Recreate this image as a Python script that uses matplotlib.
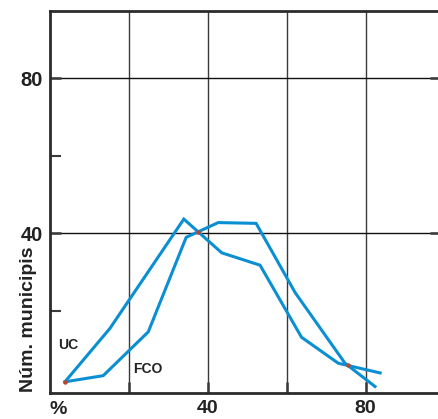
import numpy as np
import matplotlib
matplotlib.use('Agg')
import matplotlib.pyplot as plt

plt.rcParams['font.family'] = ['Liberation Sans', 'DejaVu Sans']
plt.rcParams['font.weight'] = 'bold'

# data (% on x, number of municipalities on y)
uc_x = [3.9, 15.3, 34.0, 43.6, 53.3, 63.8, 73.1, 83.7]
uc_y = [1.7, 15.5, 43.7, 35.0, 31.8, 13.2, 6.5, 4.0]
fco_x = [3.9, 13.6, 25.0, 34.6, 42.7, 52.3, 62.2, 74.8, 82.4]
fco_y = [1.7, 3.3, 14.6, 39.0, 42.8, 42.6, 24.7, 6.5, 0.5]

x_ticks = [20, 40, 60, 80]
x_labels = ['', '40', '', '80']
y_major = [40, 80]
y_minor = [20, 60]

line_col = '#0a8fd2'
grid_col = '#3a3a3a'

fig = plt.figure(figsize=(4.38, 4.19), dpi=100)
ax = fig.add_axes((49.5 / 438, 1 - 392.7 / 419, (441 - 49.5) / 438, (392.7 - 11) / 419))

ax.plot(uc_x, uc_y, color=line_col, lw=2.2, solid_joinstyle='miter', zorder=3)
ax.plot(fco_x, fco_y, color=line_col, lw=2.2, solid_joinstyle='miter', zorder=3)


# small red spots where the two curves touch (computed, not typed)
def crossings(xa, ya, xb, yb):
    pts = []
    for i in range(len(xa) - 1):
        p = np.array([xa[i], ya[i]])
        r = np.array([xa[i + 1], ya[i + 1]]) - p
        for j in range(len(xb) - 1):
            q = np.array([xb[j], yb[j]])
            s = np.array([xb[j + 1], yb[j + 1]]) - q
            den = r[0] * s[1] - r[1] * s[0]
            if abs(den) < 1e-9:
                continue
            t = ((q - p)[0] * s[1] - (q - p)[1] * s[0]) / den
            u = ((q - p)[0] * r[1] - (q - p)[1] * r[0]) / den
            if 0 < t < 1 and 0 < u < 1:
                pts.append(p + t * r)
    return pts


spots = crossings(uc_x, uc_y, fco_x, fco_y) + [np.array([uc_x[0], uc_y[0]])]
for sp in spots:
    ax.plot(sp[0], sp[1], 'o', color='#b8452c', ms=3.2, mec='none', zorder=4)

ax.set_xlim(0, 99.1)
ax.set_ylim(-1.1, 97.4)

ax.set_xticks(x_ticks)
ax.set_xticklabels(x_labels)
ax.set_yticks(y_major)
ax.set_yticklabels([str(v) for v in y_major])
ax.set_yticks(y_minor, minor=True)

for v in x_ticks:
    ax.axvline(v, color=grid_col, lw=1.0, zorder=1)
for v in y_major:
    ax.axhline(v, color='#111111', lw=1.0, zorder=1)

ax.tick_params(axis='x', direction='in', length=8, width=1.8, color=grid_col,
               labelsize=14, pad=5.5)
ax.tick_params(axis='y', which='major', direction='in', length=8, width=1.8,
               color=grid_col, labelsize=14.5, pad=5, right=True)
ax.tick_params(axis='y', which='minor', direction='in', length=8, width=1.5,
               color=grid_col, right=False)
for lab in ax.get_xticklabels() + ax.get_yticklabels():
    lab.set_fontweight('bold')
    lab.set_color('#222222')

for side in ['left', 'bottom', 'top']:
    ax.spines[side].set_linewidth(2.0)
    ax.spines[side].set_color('#2b2b2b')
ax.spines['right'].set_visible(False)

ax.text(0, -0.021, '%', transform=ax.transAxes, ha='left', va='top',
        fontsize=14, fontweight='bold', color='#222222')
ax.text(2.2, 11.2, 'UC', ha='left', va='center', fontsize=10,
        fontweight='bold', color='#222222')
ax.text(21.2, 4.9, 'FCO', ha='left', va='center', fontsize=10,
        fontweight='bold', color='#222222')

fig.text(28.5 / 438, 1 - 319 / 419, 'Núm. municipis', rotation=90,
         ha='center', va='center', fontsize=14, fontweight='bold', color='#222222')

fig.savefig('out.png', dpi=100)
